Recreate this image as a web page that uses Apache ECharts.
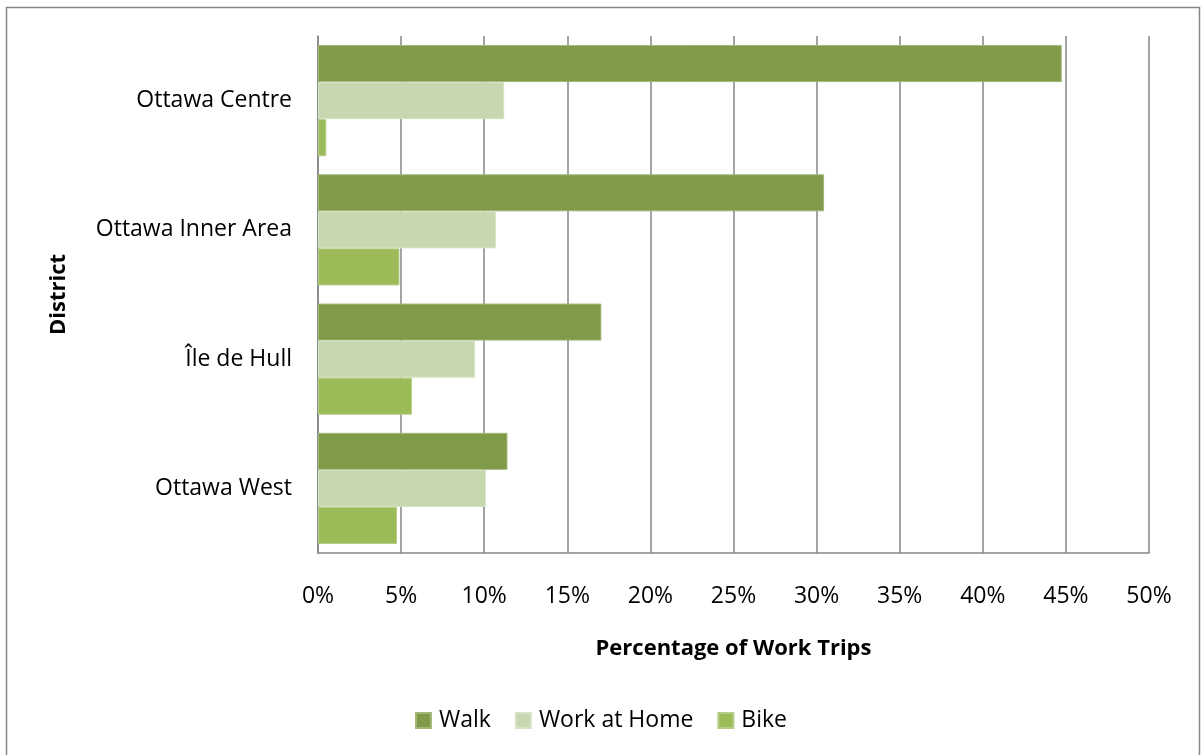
<!DOCTYPE html>
<html><head><meta charset="utf-8">
<script src="https://cdn.jsdelivr.net/npm/echarts@6/dist/echarts.min.js"></script>
<style>html,body{margin:0;padding:0;background:#fff}#c{width:1202px;height:755px}</style>
</head><body><div id="c"></div>
<script>
const categories = ['Ottawa West', 'Île de Hull', 'Ottawa Inner Area', 'Ottawa Centre'];
const walk = [11.4, 17.05, 30.45, 44.75];
const workAtHome = [10.1, 9.45, 10.7, 11.2];
const bike = [4.75, 5.65, 4.9, 0.5];
const xTicks = [0, 5, 10, 15, 20, 25, 30, 35, 40, 45, 50];

const chart = echarts.init(document.getElementById('c'));
const font = '"Open Sans", sans-serif';
chart.setOption({
  animation: false,
  graphic: [{type: 'rect', shape: {x: 6.5, y: 7.5, width: 1193, height: 760}, style: {fill: 'none', stroke: '#868686', lineWidth: 1.5}, silent: true}],
  grid: {left: 318, right: 53, top: 36, bottom: 202, containLabel: false},
  legend: {
    bottom: 18, left: 'center', itemWidth: 15, itemHeight: 15, itemGap: 24,
    icon: 'rect',
    textStyle: {fontFamily: font, fontSize: 23, color: '#000', padding: [0, 0, 0, 3]},
    data: ['Walk', 'Work at Home', 'Bike']
  },
  xAxis: {
    type: 'value', min: xTicks[0], max: xTicks[xTicks.length - 1], interval: 5,
    name: 'Percentage of Work Trips', nameLocation: 'middle', nameGap: 85,
    nameTextStyle: {fontFamily: font, fontSize: 22, fontWeight: 'bold', color: '#000'},
    axisLine: {show: true, lineStyle: {color: '#868686', width: 1.5}},
    axisTick: {show: false},
    axisLabel: {formatter: v => v + '%', fontFamily: font, fontSize: 23, color: '#000', margin: 32},
    splitLine: {show: true, lineStyle: {color: '#868686', width: 1.5}}
  },
  yAxis: {
    type: 'category', data: categories,
    name: 'District', nameLocation: 'middle', nameGap: 248, nameRotate: 90,
    nameTextStyle: {fontFamily: font, fontSize: 22, fontWeight: 'bold', color: '#000'},
    axisLine: {show: true, lineStyle: {color: '#868686', width: 1.5}},
    axisTick: {show: false},
    axisLabel: {fontFamily: font, fontSize: 23, color: '#000', margin: 26, padding: [4, 0, 0, 0]},
    splitLine: {show: false}
  },
  series: [
    {name: 'Walk', type: 'bar', data: walk, barGap: '0%', barCategoryGap: '14%',
      itemStyle: {color: '#7F9A48', borderColor: '#A2B878', borderWidth: 1}},
    {name: 'Work at Home', type: 'bar', data: workAtHome, barGap: '0%', barCategoryGap: '14%',
      itemStyle: {color: '#C7D7AF', borderColor: '#D7E3C6', borderWidth: 1}},
    {name: 'Bike', type: 'bar', data: bike, barGap: '0%', barCategoryGap: '14%',
      itemStyle: {color: '#9BBB59', borderColor: '#B5CD85', borderWidth: 1}}
  ]
});
</script></body></html>
